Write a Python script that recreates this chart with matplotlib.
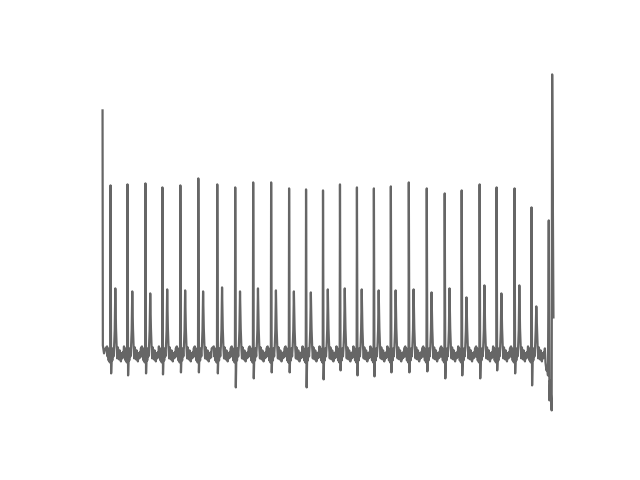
import numpy as np
import matplotlib.pyplot as plt

# beat times (s), R peak, S trough, T peak amplitudes (mV)
r_times = [0.16, 0.50, 0.86, 1.20, 1.56, 1.92, 2.30, 2.66, 3.02, 3.38,
           3.74, 4.08, 4.42, 4.76, 5.10, 5.44, 5.78, 6.14, 6.50, 6.86,
           7.20, 7.56, 7.90, 8.26, 8.60]
r_amp = [1.65, 1.66, 1.67, 1.63, 1.65, 1.72, 1.66, 1.63, 1.68, 1.68,
         1.62, 1.61, 1.60, 1.66, 1.63, 1.62, 1.64, 1.68, 1.62, 1.57,
         1.60, 1.66, 1.63, 1.62, 1.43]
s_amp = [-0.23, -0.25, -0.23, -0.24, -0.22, -0.22, -0.23, -0.37, -0.28, -0.22,
         -0.22, -0.37, -0.29, -0.20, -0.25, -0.26, -0.22, -0.22, -0.21, -0.28,
         -0.25, -0.28, -0.20, -0.23, -0.35]
t_amp = [0.62, 0.59, 0.57, 0.61, 0.60, 0.59, 0.63, 0.59, 0.62, 0.60,
         0.59, 0.58, 0.61, 0.62, 0.61, 0.60, 0.60, 0.61, 0.58, 0.62,
         0.53, 0.65, 0.57, 0.65, 0.44]

# one beat: offsets from R (s) and baseline wiggle (mV)
# 'R', 'S', 'T' mark the points taken from the per-beat lists above
beat_dt = [-0.070, -0.060, -0.048, -0.038, -0.026, -0.014, -0.006, 0.0, 0.012,
           0.024, 0.036, 0.048, 0.060, 0.072, 0.084, 0.096, 0.110, 0.124,
           0.136, 0.148, 0.160, 0.172, 0.184, 0.196, 0.208, 0.220, 0.232,
           0.244, 0.256, 0.268]
beat_v = [0.04, -0.06, 0.02, -0.10, -0.02, -0.12, -0.05, 'R', 'S',
          -0.02, -0.10, 0.02, -0.06, 0.04, 0.20, 'T', 0.22, 0.02,
          -0.08, 0.03, -0.04, -0.09, 0.00, -0.05, -0.11, -0.03, -0.08,
          -0.02, -0.07, 0.02]

# start and end of the record
head_t = [0.000, 0.006, 0.030, 0.060]
head_v = [2.40, 0.05, -0.03, 0.02]
tail_t = [8.880, 8.900, 8.915, 8.930, 8.946, 8.960, 8.970, 8.990, 9.004, 9.014, 9.040]
tail_v = [-0.12, -0.20, -0.16, -0.25, 1.30, -0.50, -0.30, -0.45, -0.60, 2.76, 0.33]

t_all = list(head_t)
v_all = list(head_v)
for i, rt in enumerate(r_times):
    for dt, v in zip(beat_dt, beat_v):
        t_all.append(rt + dt)
        if v == 'R':
            v_all.append(r_amp[i])
        elif v == 'S':
            v_all.append(s_amp[i])
        elif v == 'T':
            v_all.append(t_amp[i])
        else:
            v_all.append(v)
t_all += tail_t
v_all += tail_v

fig, ax = plt.subplots(figsize=(6.4, 4.8), dpi=100)
ax.plot(t_all, v_all, color='#666666', lw=1.6)
ax.axis('off')
fig.savefig('out.png')
